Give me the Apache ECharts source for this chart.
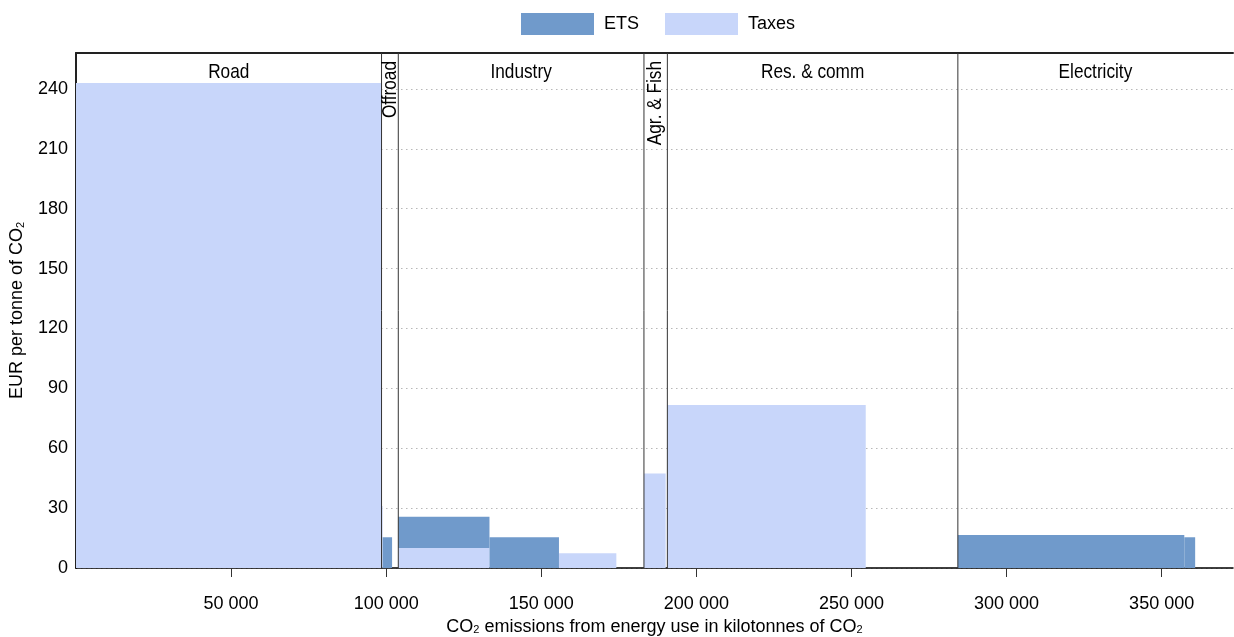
<!DOCTYPE html>
<html>
<head>
<meta charset="utf-8">
<script src="https://cdn.jsdelivr.net/npm/echarts@6/dist/echarts.min.js"></script>
<style>html,body{margin:0;padding:0;background:#fff}#c{width:1234px;height:637px}</style>
</head>
<body>
<div id="c"></div>
<script>
// Sectors (x-extent in kilotonnes CO2)
var sectorNames = ['Road', 'Offroad', 'Industry', 'Agr. & Fish', 'Res. & comm', 'Electricity'];
var sectorStart = [0, 98500, 103900, 183100, 190650, 284300];
var sectorEnd   = [98500, 103900, 183100, 190650, 284300, 373000];
var sectorVertical = [false, true, false, true, false, false];

// Segments: emission base width and price per tonne
var segStart = [0,     98500, 98850,  103900, 133300, 155700, 183100, 190650, 284300, 357300];
var segEnd   = [98500, 98850, 101900, 133300, 155700, 174200, 190100, 254600, 357300, 360800];
var taxes    = [243,   31,    0,      10,     0,      7.4,    47.4,   81.7,   0,      0];
var ets      = [0,     0,     15.4,   15.7,   15.4,   0,      0,      0,      16.5,   15.4];

var xTicks = [50000, 100000, 150000, 200000, 250000, 300000, 350000];
var yTicks = [0, 30, 60, 90, 120, 150, 180, 210, 240];

var FONT = "'Liberation Sans Narrow', 'Arial Narrow', 'Liberation Sans', Arial, sans-serif";
var FS = 18;
var ETS_COLOR = '#709ACB';
var TAX_COLOR = '#C8D6FA';

var taxData = [], etsData = [];
for (var i = 0; i < segStart.length; i++) {
  if (taxes[i] > 0) taxData.push([segStart[i], segEnd[i], 0, taxes[i]]);
  if (ets[i] > 0) etsData.push([segStart[i], segEnd[i], taxes[i], taxes[i] + ets[i]]);
}
var sectorData = [];
for (var j = 0; j < sectorNames.length; j++) sectorData.push([sectorStart[j], sectorEnd[j]]);

function rectItem(params, api) {
  var p0 = api.coord([api.value(0), api.value(3)]);
  var p1 = api.coord([api.value(1), api.value(2)]);
  return {
    type: 'rect',
    shape: { x: p0[0], y: p0[1], width: p1[0] - p0[0], height: p1[1] - p0[1] },
    style: { fill: api.visual('color') }
  };
}

var YMAX = 258;
function sectorItem(params, api) {
  var idx = params.dataIndex;
  var a = api.coord([api.value(0), YMAX]);
  var b = api.coord([api.value(1), 0]);
  var children = [];
  if (idx > 0) {
    children.push({
      type: 'line',
      shape: { x1: a[0], y1: a[1], x2: a[0], y2: b[1] },
      style: { stroke: '#333', lineWidth: 1 }
    });
  }
  var cx = (a[0] + b[0]) / 2;
  if (sectorVertical[idx]) {
    children.push({
      type: 'text', x: cx, y: a[1] + 8, rotation: Math.PI / 2, scaleX: 0.82, scaleY: 1,
      style: { text: sectorNames[idx], x: 0, y: 0, align: 'right', verticalAlign: 'middle',
               fontSize: 21, fontFamily: FONT, fill: '#000' }
    });
  } else {
    children.push({
      type: 'text', x: cx, y: a[1] + 9, scaleX: 0.82, scaleY: 1,
      style: { text: sectorNames[idx], x: 0, y: 0, align: 'center', verticalAlign: 'top',
               fontSize: 21, fontFamily: FONT, fill: '#000' }
    });
  }
  return { type: 'group', children: children };
}

var chart = echarts.init(document.getElementById('c'));
var subRich = { s: { fontSize: 11, fontFamily: FONT, color: '#000', verticalAlign: 'bottom', lineHeight: 11 } };
chart.setOption({
  animation: false,
  textStyle: { fontFamily: FONT },
  legend: {
    left: 521, top: 13, padding: 0, itemWidth: 73, itemHeight: 22, itemGap: 26, icon: 'rect',
    textStyle: { fontSize: FS, fontFamily: FONT, color: '#000', padding: [0, 0, 0, 5] },
    data: ['ETS', 'Taxes']
  },
  grid: { left: 76, right: 1, top: 53, bottom: 69, containLabel: false, outerBoundsMode: 'none' },
  xAxis: [{
    type: 'value', min: 0, max: 373000, interval: 50000, position: 'bottom',
    name: 'CO{s|2} emissions from energy use in kilotonnes of CO{s|2}',
    nameLocation: 'middle', nameGap: 49,
    nameTextStyle: { fontSize: FS, fontFamily: FONT, color: '#000', rich: subRich },
    axisLine: { show: true, lineStyle: { color: '#000', width: 1.5 } },
    axisTick: { show: true, length: 9, lineStyle: { color: '#333' }, customValues: xTicks },
    axisLabel: {
      customValues: xTicks, margin: 27, fontSize: FS, fontFamily: FONT, color: '#000',
      formatter: function (v) { return String(v).replace(/\B(?=(\d{3})+(?!\d))/g, ' '); }
    },
    splitLine: { show: false }
  }, {
    type: 'value', min: 0, max: 373000, position: 'top',
    axisLine: { show: true, onZero: false, lineStyle: { color: '#222', width: 2 } },
    axisTick: { show: false }, axisLabel: { show: false }, splitLine: { show: false }
  }],
  yAxis: {
    type: 'value', min: 0, max: YMAX, interval: 30,
    name: 'EUR per tonne of CO{s|2}', nameLocation: 'middle', nameGap: 50,
    nameTextStyle: { fontSize: FS, fontFamily: FONT, color: '#000', rich: subRich },
    axisLine: { show: true, lineStyle: { color: '#222', width: 2 } },
    axisTick: { show: false },
    axisLabel: {
      margin: 8, fontSize: FS, fontFamily: FONT, color: '#000',
      formatter: function (v) { return yTicks.indexOf(v) >= 0 ? String(v) : ''; }
    },
    splitLine: { show: true, lineStyle: { type: [1.5, 3.5], color: '#b8b8b8', width: 1.2 } }
  },
  series: [{
    name: 'Taxes', type: 'custom', renderItem: rectItem, data: taxData,
    itemStyle: { color: TAX_COLOR }, encode: { x: [0, 1], y: [2, 3] }, z: 2
  }, {
    name: 'ETS', type: 'custom', renderItem: rectItem, data: etsData,
    itemStyle: { color: ETS_COLOR }, encode: { x: [0, 1], y: [2, 3] }, z: 3
  }, {
    name: 'sectors', type: 'custom', renderItem: sectorItem, data: sectorData,
    encode: { x: [0, 1] }, z: 5, silent: true, clip: false
  }]
});
</script>
</body>
</html>
